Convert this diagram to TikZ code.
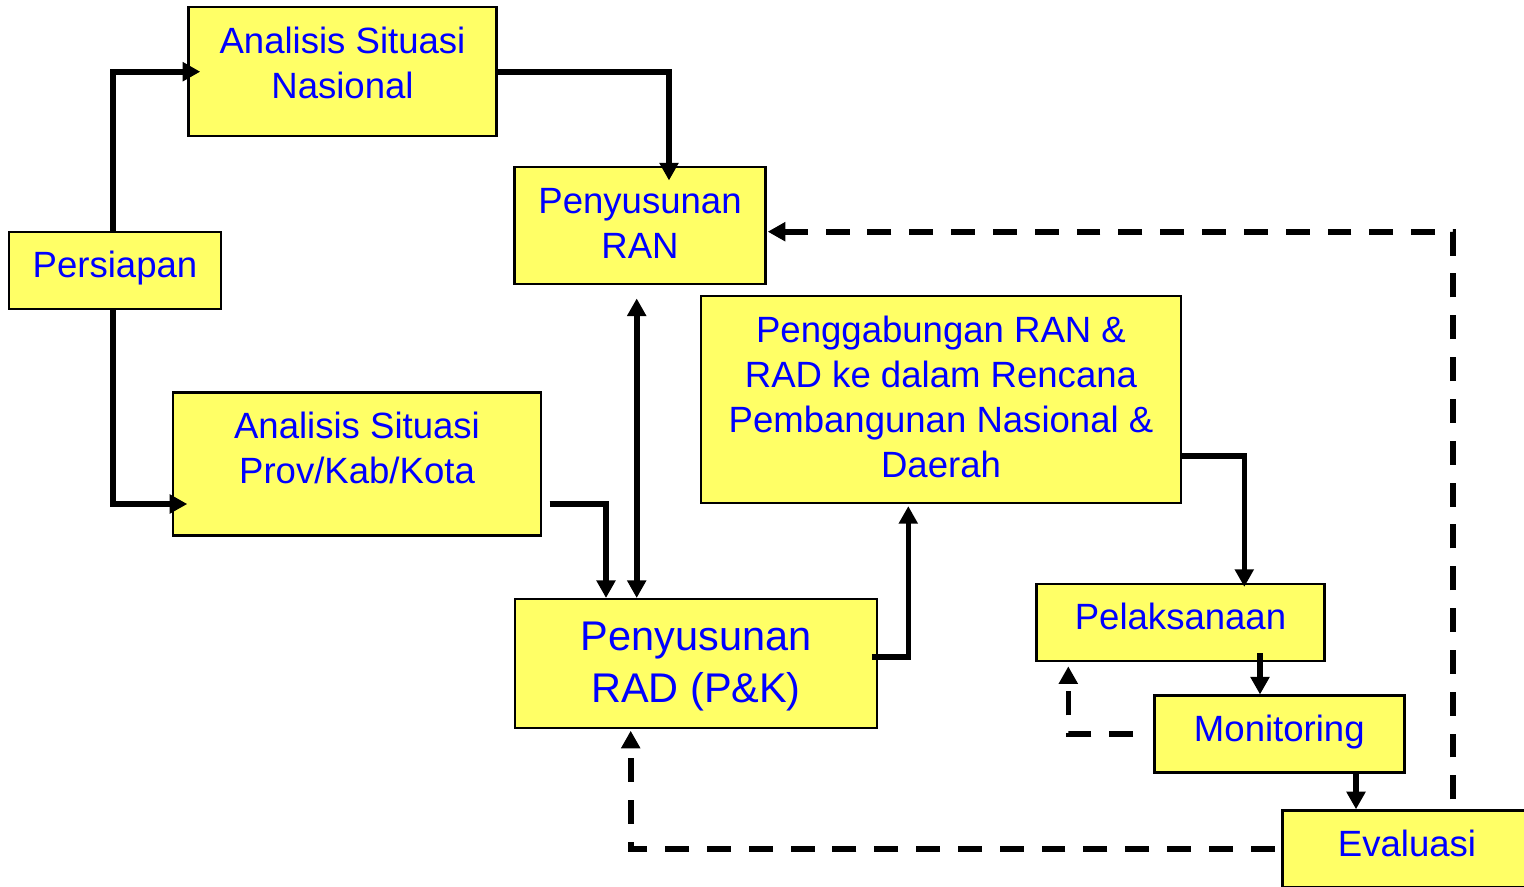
\documentclass[tikz,border=0pt]{standalone}
\usepackage{fontspec}
\setmainfont{Liberation Sans}
\usetikzlibrary{arrows.meta}
\definecolor{boxyellow}{HTML}{FFFF66}
\definecolor{textblue}{HTML}{0000FF}
\newcommand{\bxt}[4]{\begin{minipage}[c][#2][t]{#1}\centering\rule{0pt}{#3}#4\end{minipage}}
\tikzset{
  box/.style={draw=black, line width=0.7pt, fill=boxyellow, inner sep=0pt, text=textblue,
    font=\fontsize{10.4pt}{12.8pt}\selectfont},
  bigbox/.style={box, font=\fontsize{11.8pt}{14.8pt}\selectfont},
  arr/.style={line width=1.6pt, -{Triangle[length=5pt,width=5.2pt]}},
  arrtwo/.style={line width=1.6pt, {Triangle[length=5pt,width=5.2pt]}-{Triangle[length=5pt,width=5.2pt]}},
  darr/.style={line width=1.6pt, dash pattern=on 6.8pt off 5.1pt, -{Triangle[length=5pt,width=5.2pt]}}
}
\begin{document}
\begin{tikzpicture}
\useasboundingbox (0,0) rectangle (15.24,-8.86);
\fill[white] (0,0) rectangle (15.24,-8.86);
\clip (0,0) rectangle (15.24,-8.86);

\node[box] (asn) at (3.425,-0.717) {\bxt{3.08cm}{1.29cm}{0.46cm}{Analisis Situasi\\Nasional}};
\node[box] (pers) at (1.15,-2.703) {\bxt{2.12cm}{0.77cm}{0.46cm}{Persiapan}};
\node[box] (ran) at (6.40,-2.257) {\bxt{2.51cm}{1.17cm}{0.46cm}{Penyusunan\\RAN}};
\node[box] (pg) at (9.41,-3.997) {\bxt{4.80cm}{2.07cm}{0.46cm}{Penggabungan RAN \&\\RAD ke dalam Rencana\\Pembangunan Nasional \&\\Daerah}};
\node[box] (prov) at (3.57,-4.64) {\bxt{3.68cm}{1.43cm}{0.46cm}{Analisis Situasi\\Prov/Kab/Kota}};
\node[bigbox] (rad) at (6.96,-6.637) {\bxt{3.62cm}{1.29cm}{0.51cm}{Penyusunan\\RAD (P\&K)}};
\node[box] (pel) at (11.805,-6.223) {\bxt{2.88cm}{0.77cm}{0.46cm}{Pelaksanaan}};
\node[box] (mon) at (12.793,-7.342) {\bxt{2.50cm}{0.77cm}{0.46cm}{Monitoring}};
\node[box] (ev) at (14.07,-8.49) {\bxt{2.49cm}{0.77cm}{0.46cm}{Evaluasi}};

% solid connectors
\draw[arr] ([xshift=-0.02cm]pers.north) |- ([xshift=0.13cm]asn.west);
\draw[arr] ([xshift=-0.02cm]pers.south) |- ([xshift=0.155cm,yshift=-0.40cm]prov.west);
\draw[arr] (asn.east) -| ([xshift=0.29cm,yshift=-0.145cm]ran.north);
\draw[arr] ([xshift=0.073cm,yshift=-0.40cm]prov.east) -| ([xshift=-0.90cm]rad.north);
\coordinate (r1) at ([xshift=-0.033cm,yshift=-0.13cm]ran.south);
\draw[arrtwo] (r1) -- (r1 |- rad.north);
\draw[arr] ([xshift=-0.06cm,yshift=0.064cm]rad.east) -| ([xshift=-0.327cm,yshift=-0.017cm]pg.south);
\draw[arr] ([yshift=-0.56cm]pg.east) -| ([xshift=0.638cm,yshift=-0.043cm]pel.north);
\coordinate (m1) at ([xshift=0.795cm,yshift=0.09cm]pel.south);
\draw[arr] (m1) -- (m1 |- mon.north);
\coordinate (e1) at ([xshift=0.767cm]mon.south);
\draw[arr] (e1) -- (e1 |- ev.north);

% dashed feedback connectors
\draw[darr] ([xshift=-0.2cm]mon.west) -| ([xshift=-1.122cm,yshift=-0.043cm]pel.south);
\draw[darr] ([xshift=-0.067cm]ev.west) -| ([xshift=-0.653cm,yshift=-0.013cm]rad.south);
\draw[darr] ([xshift=0.46cm,yshift=0.1cm]ev.north) |- ([xshift=0.01cm,yshift=-0.06cm]ran.east);
\end{tikzpicture}
\end{document}
